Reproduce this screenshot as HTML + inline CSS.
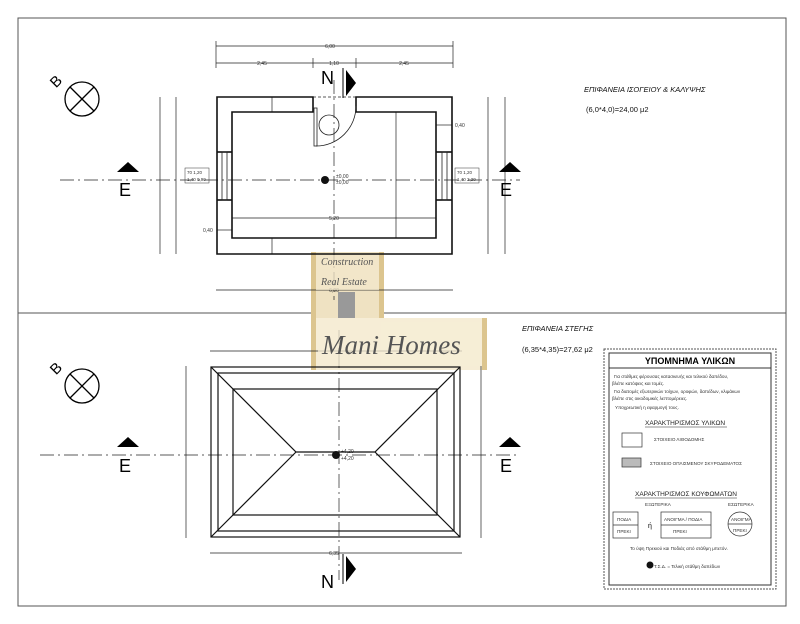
<!DOCTYPE html>
<html><head><meta charset="utf-8"><style>
html,body{margin:0;padding:0;background:#fff;}
svg{display:block;font-family:"Liberation Sans",sans-serif;}
</style></head><body>
<svg width="800" height="624" viewBox="0 0 800 624" xmlns="http://www.w3.org/2000/svg">
<rect width="800" height="624" fill="#fff"/>
<rect x="18" y="18" width="768" height="588" fill="none" stroke="#555" stroke-width="1"/>
<line x1="18" y1="313" x2="786" y2="313" stroke="#555"/>

<!-- watermark (behind lines) -->
<g>
<rect x="311" y="252" width="73" height="66" fill="#efe2c2"/>
<rect x="311" y="318" width="176" height="52" fill="#f6edd6"/>
<rect x="311" y="252" width="5" height="118" fill="#dcc58f"/>
<rect x="379" y="252" width="5" height="66" fill="#dcc58f"/>
<rect x="482" y="318" width="5" height="52" fill="#dcc58f"/>
<rect x="338" y="292" width="17" height="26" fill="#999"/>
</g>

<g stroke="#222" fill="none" stroke-width="0.7">
<line x1="216" y1="46" x2="453" y2="46"/><line x1="216" y1="63" x2="453" y2="63"/>
<line x1="313" y1="58" x2="313" y2="68"/><line x1="356" y1="58" x2="356" y2="68"/>
<line x1="216" y1="41" x2="216" y2="68"/><line x1="453" y1="41" x2="453" y2="68"/>
<line x1="216" y1="290" x2="453" y2="290"/>
<line x1="160" y1="97" x2="160" y2="254"/><line x1="176" y1="97" x2="176" y2="254"/>
<line x1="488" y1="97" x2="488" y2="254"/><line x1="505" y1="97" x2="505" y2="254"/>
<line x1="396" y1="112" x2="396" y2="238"/><line x1="232" y1="218" x2="436" y2="218"/>
<line x1="272" y1="97" x2="272" y2="112"/><line x1="272" y1="238" x2="272" y2="254"/>
<line x1="436" y1="125" x2="452" y2="125"/><line x1="217" y1="230" x2="232" y2="230"/>
<line x1="60" y1="180" x2="520" y2="180" stroke-dasharray="14,4,2,4"/>
<line x1="334" y1="80" x2="334" y2="300" stroke-dasharray="14,4,2,4"/>
<line x1="40" y1="455" x2="520" y2="455" stroke-dasharray="14,4,2,4"/>
<line x1="339" y1="330" x2="339" y2="580" stroke-dasharray="14,4,2,4"/>
<line x1="210" y1="351" x2="462" y2="351"/><line x1="210" y1="553" x2="462" y2="553"/>
<line x1="186" y1="366" x2="186" y2="538"/><line x1="481" y1="366" x2="481" y2="538"/>
</g>

<g stroke="#111" stroke-width="1.6" fill="none">
<path d="M313 97 H217 V254 H452 V97 H356 V112 H436 V238 H232 V112 H313 Z"/>
<line x1="217" y1="152" x2="232" y2="152"/><line x1="217" y1="200" x2="232" y2="200"/>
<line x1="436" y1="152" x2="452" y2="152"/><line x1="436" y1="200" x2="452" y2="200"/>
</g>
<g stroke="#222" stroke-width="0.8" fill="none">
<rect x="222" y="152" width="5" height="48"/><rect x="442" y="152" width="5" height="48"/>
<rect x="314" y="108" width="3" height="38"/>
<path d="M316 146 A40 40 0 0 0 356 106"/>
<circle cx="329" cy="125" r="10"/>
<line x1="313" y1="97" x2="356" y2="97" stroke-dasharray="3,2"/>
</g>
<g font-size="5" fill="#333">
<text x="330" y="48" text-anchor="middle">6,00</text>
<text x="262" y="65" text-anchor="middle">2,45</text><text x="334" y="65" text-anchor="middle">1,10</text><text x="404" y="65" text-anchor="middle">2,45</text>
<text x="334" y="220" text-anchor="middle">5,20</text>
<text x="455" y="127">0,40</text><text x="203" y="232">0,40</text>
<text x="336" y="178">±0,00</text><text x="336" y="184">±0,00</text>
<text x="334" y="292" text-anchor="middle">6,00</text>
<text x="334" y="555" text-anchor="middle">6,35</text>
<text x="341" y="453">+4,20</text><text x="341" y="460">+4,20</text>
</g>
<g font-size="4.5" fill="#333">
<rect x="185" y="168" width="24" height="15" fill="none" stroke="#333" stroke-width="0.5"/>
<text x="187" y="174">70 1,20</text><text x="187" y="181">1,40 0,90</text>
<rect x="455" y="168" width="24" height="15" fill="none" stroke="#333" stroke-width="0.5"/>
<text x="457" y="174">70 1,20</text><text x="457" y="181">1,40 2,20</text>
</g>
<circle cx="325" cy="180" r="4" fill="#111"/>

<g stroke="#111" stroke-width="1.2" fill="none">
<rect x="211" y="367" width="249" height="170"/>
<rect x="218" y="373" width="236" height="158"/>
<rect x="233" y="389" width="204" height="126"/>
<path d="M211 367 L296 452 L375 452 L460 367 M211 537 L296 452 M375 452 L460 537"/>
</g>
<circle cx="336" cy="455" r="4" fill="#111"/>

<g fill="#000">
<polygon points="117,172 139,172 128,162"/><polygon points="499,172 521,172 510,162"/>
<polygon points="117,447 139,447 128,437"/><polygon points="499,447 521,447 510,437"/>
<polygon points="346,70 346,96 356,83"/><polygon points="346,556 346,582 356,569"/>
</g>
<g font-size="18" fill="#000">
<text x="119" y="196">E</text><text x="500" y="196">E</text>
<text x="119" y="472">E</text><text x="500" y="472">E</text>
<text x="321" y="84">N</text><text x="321" y="588">N</text>
</g>
<line x1="343" y1="68" x2="343" y2="98" stroke="#000"/>
<line x1="343" y1="554" x2="343" y2="584" stroke="#000"/>
<g stroke="#000" stroke-width="1.3" fill="none">
<circle cx="82" cy="99" r="17"/><line x1="70" y1="87" x2="94" y2="111"/><line x1="94" y1="87" x2="70" y2="111"/>
<circle cx="82" cy="386" r="17"/><line x1="70" y1="374" x2="94" y2="398"/><line x1="94" y1="374" x2="70" y2="398"/>
</g>
<text x="50" y="86" font-size="15" transform="rotate(-45 56 80)">B</text>
<text x="50" y="373" font-size="15" transform="rotate(-45 56 367)">B</text>

<g font-size="7.5" fill="#111" font-style="italic">
<text x="584" y="92">ΕΠΙΦΑΝΕΙΑ ΙΣΟΓΕΙΟΥ &amp; ΚΑΛΥΨΗΣ</text>
<text x="522" y="331">ΕΠΙΦΑΝΕΙΑ ΣΤΕΓΗΣ</text>
</g>
<g font-size="7.5" fill="#111">
<text x="586" y="112">(6,0*4,0)=24,00 μ2</text>
<text x="522" y="352">(6,35*4,35)=27,62 μ2</text>
</g>

<rect x="604" y="349" width="172" height="240" fill="none" stroke="#555" stroke-dasharray="2,1"/>
<rect x="609" y="353" width="162" height="232" fill="none" stroke="#333"/>
<line x1="609" y1="368" x2="771" y2="368" stroke="#333"/>
<text x="690" y="364" font-size="9" font-weight="bold" text-anchor="middle">ΥΠΟΜΝΗΜΑ ΥΛΙΚΩΝ</text>
<g font-size="4.6" fill="#333">
<text x="614" y="378">Για στάθμες φέρουσας κατασκευής και τελικού δαπέδου,</text>
<text x="612" y="385">βλέπε κατόψεις και τομές.</text>
<text x="614" y="393">Για διατομές εξωτερικών τοίχων, οροφών, δαπέδων, κλιμάκων</text>
<text x="612" y="400">βλέπε στις οικοδομικές λεπτομέρειες.</text>
<text x="615" y="409">Υποχρεωτική η εφαρμογή τους.</text>
<text x="654" y="441">ΣΤΟΙΧΕΙΟ ΛΙΘΟΔΟΜΗΣ</text>
<text x="650" y="465">ΣΤΟΙΧΕΙΟ ΟΠΛΙΣΜΕΝΟΥ ΣΚΥΡΟΔΕΜΑΤΟΣ</text>
<text x="645" y="506">ΕΞΩΤΕΡΙΚΑ</text><text x="728" y="506">ΕΣΩΤΕΡΙΚΑ</text>
<text x="617" y="521">ΠΟΔΙΑ</text><text x="617" y="533">ΠΡΕΚΙ</text>
<text x="664" y="521">ΑΝΟΙΓΜΑ / ΠΟΔΙΑ</text><text x="673" y="533">ΠΡΕΚΙ</text>
<text x="731" y="521">ΑΝΟΙΓΜΑ</text><text x="733" y="532">ΠΡΕΚΙ</text>
<text x="630" y="550">Το ύψη Πρεκιού και Ποδιάς από στάθμη μπετόν.</text>
<text x="654" y="568">Τ.Σ.Δ. = Τελική στάθμη δαπέδων</text>
</g>
<g font-size="6.5" fill="#222">
<text x="645" y="425">ΧΑΡΑΚΤΗΡΙΣΜΟΣ ΥΛΙΚΩΝ</text>
<line x1="645" y1="427" x2="727" y2="427" stroke="#222" stroke-width="0.5"/>
<text x="635" y="496">ΧΑΡΑΚΤΗΡΙΣΜΟΣ ΚΟΥΦΩΜΑΤΩΝ</text>
<line x1="635" y1="498" x2="737" y2="498" stroke="#222" stroke-width="0.5"/>
</g>
<g stroke="#333" fill="none" stroke-width="0.7">
<rect x="622" y="433" width="20" height="14"/>
<rect x="622" y="458" width="19" height="9" fill="#bbb"/>
<rect x="613" y="512" width="25" height="26"/><line x1="613" y1="525" x2="638" y2="525"/>
<rect x="661" y="512" width="50" height="26"/><line x1="661" y1="525" x2="711" y2="525"/>
<circle cx="740" cy="524" r="12"/><line x1="728" y1="524" x2="752" y2="524"/>
</g>
<text x="648" y="528" font-size="7">ή</text>
<circle cx="650" cy="565" r="3.5" fill="#111"/>

<!-- watermark overlay -->
<g opacity="0.75">
<rect x="316" y="255" width="63" height="35" fill="#f3e8cc"/>
<rect x="318" y="322" width="162" height="44" fill="#f6edd6"/>
</g>
<text x="321" y="265" font-family="Liberation Serif,serif" font-style="italic" font-size="10" fill="#555">Construction</text>
<text x="321" y="285" font-family="Liberation Serif,serif" font-style="italic" font-size="10" fill="#555">Real Estate</text>
<text x="322" y="354" font-family="Liberation Serif,serif" font-style="italic" font-size="27" fill="#555">Mani Homes</text>
</svg>
</body></html>
